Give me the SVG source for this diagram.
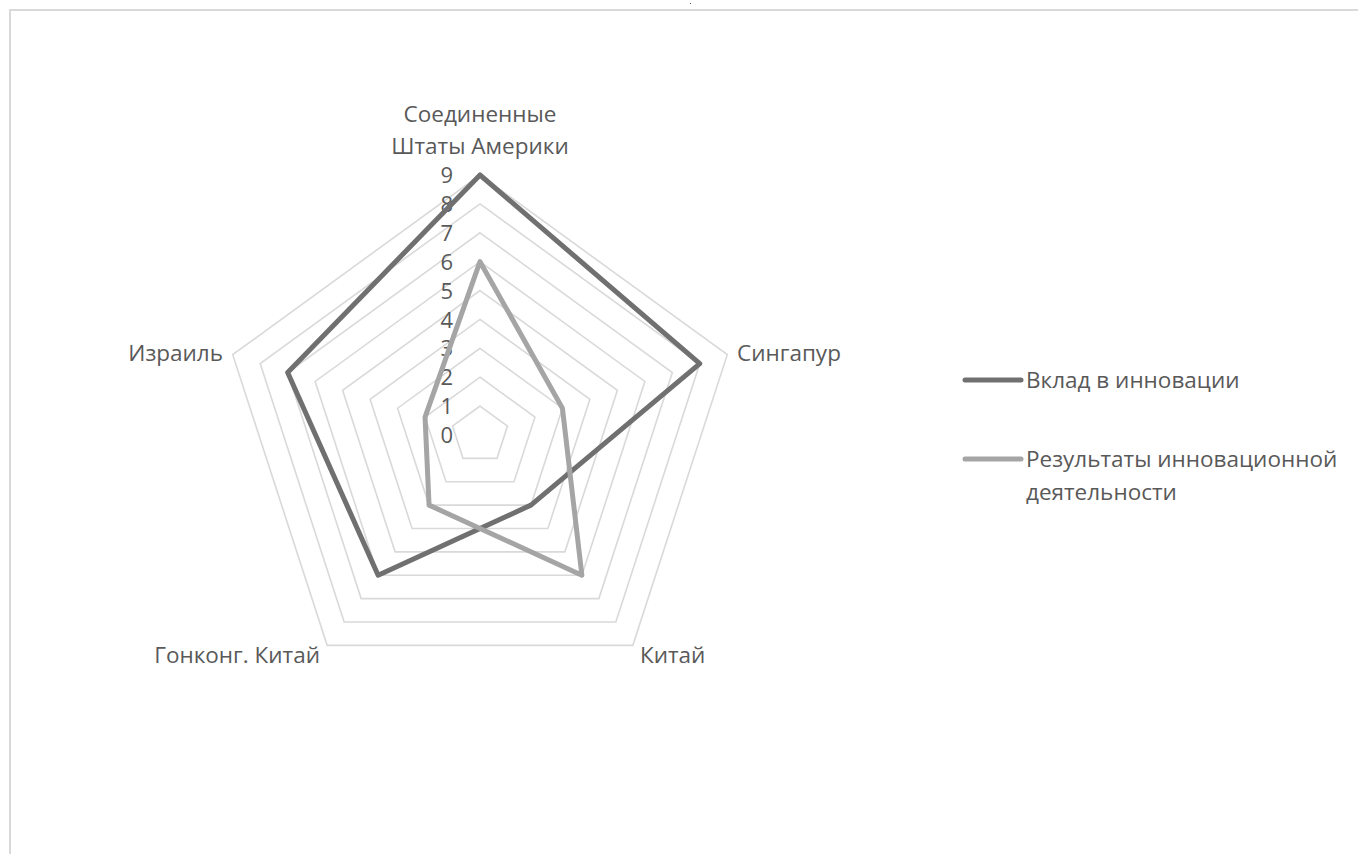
<svg xmlns="http://www.w3.org/2000/svg" width="1358" height="854" viewBox="0 0 1358 854">
<style>
.ring{fill:none;stroke:#d9d9d9;stroke-width:1.6}
.t{font-family:"Open Sans","Liberation Sans",sans-serif;font-size:22.5px;fill:#595959}
.tick{font-family:"Open Sans","Liberation Sans",sans-serif;font-size:22px;fill:#595959;text-anchor:end}
.s1{fill:none;stroke:#707070;stroke-width:5;stroke-linejoin:round;stroke-linecap:round}
.s2{fill:none;stroke:#a5a5a5;stroke-width:5;stroke-linejoin:round;stroke-linecap:round}
</style>
<rect x="0" y="0" width="1358" height="854" fill="#ffffff"/>
<rect x="10" y="10" width="1360" height="860" fill="none" stroke="#d9d9d9" stroke-width="2"/>
<rect x="690" y="3" width="1" height="1" fill="#555"/>
<g id="grid">
<polygon class="ring" points="480,406.11 507.48,426.07 496.98,458.37 463.02,458.37 452.52,426.07"/>
<polygon class="ring" points="480,377.22 534.95,417.15 513.96,481.74 446.04,481.74 425.05,417.15"/>
<polygon class="ring" points="480,348.33 562.43,408.22 530.94,505.11 429.06,505.11 397.57,408.22"/>
<polygon class="ring" points="480,319.44 589.90,399.29 547.92,528.49 412.08,528.49 370.10,399.29"/>
<polygon class="ring" points="480,290.56 617.38,390.36 564.90,551.86 395.10,551.86 342.62,390.36"/>
<polygon class="ring" points="480,261.67 644.85,381.44 581.88,575.23 378.12,575.23 315.15,381.44"/>
<polygon class="ring" points="480,232.78 672.33,372.51 598.86,598.60 361.14,598.60 287.67,372.51"/>
<polygon class="ring" points="480,203.89 699.80,363.58 615.84,621.97 344.16,621.97 260.20,363.58"/>
<polygon class="ring" points="480,175 727.28,354.66 632.83,645.34 327.17,645.34 232.72,354.66"/>
</g>
<g id="ticks">
<text class="tick" x="453" y="443">0</text>
<text class="tick" x="453" y="414">1</text>
<text class="tick" x="453" y="385">2</text>
<text class="tick" x="453" y="356">3</text>
<text class="tick" x="453" y="328">4</text>
<text class="tick" x="453" y="299">5</text>
<text class="tick" x="453" y="270">6</text>
<text class="tick" x="453" y="241">7</text>
<text class="tick" x="453" y="212">8</text>
<text class="tick" x="453" y="183">9</text>
</g>
<g id="series">
<polygon id="series-input" class="s1" points="480,175 699.80,363.58 530.94,505.11 378.12,575.23 287.67,372.51"/>
<polygon id="series-output" class="s2" points="480,261.67 562.43,408.22 581.88,575.23 429.06,505.11 425.05,417.15"/>
</g>
<g id="labels">
<text class="t" x="480" y="122" text-anchor="middle">Соединенные</text>
<text class="t" x="480" y="154" text-anchor="middle">Штаты Америки</text>
<text class="t" x="737" y="361">Сингапур</text>
<text class="t" x="223" y="361" text-anchor="end">Израиль</text>
<text class="t" x="640" y="663">Китай</text>
<text class="t" x="320" y="663" text-anchor="end">Гонконг. Китай</text>
</g>
<g id="legend">
<line class="s1" x1="965" y1="380" x2="1021" y2="380"/>
<text class="t" x="1026" y="388">Вклад в инновации</text>
<line class="s2" x1="965" y1="459" x2="1021" y2="459"/>
<text class="t" x="1026" y="467">Результаты инновационной</text>
<text class="t" x="1026" y="500">деятельности</text>
</g>
</svg>
